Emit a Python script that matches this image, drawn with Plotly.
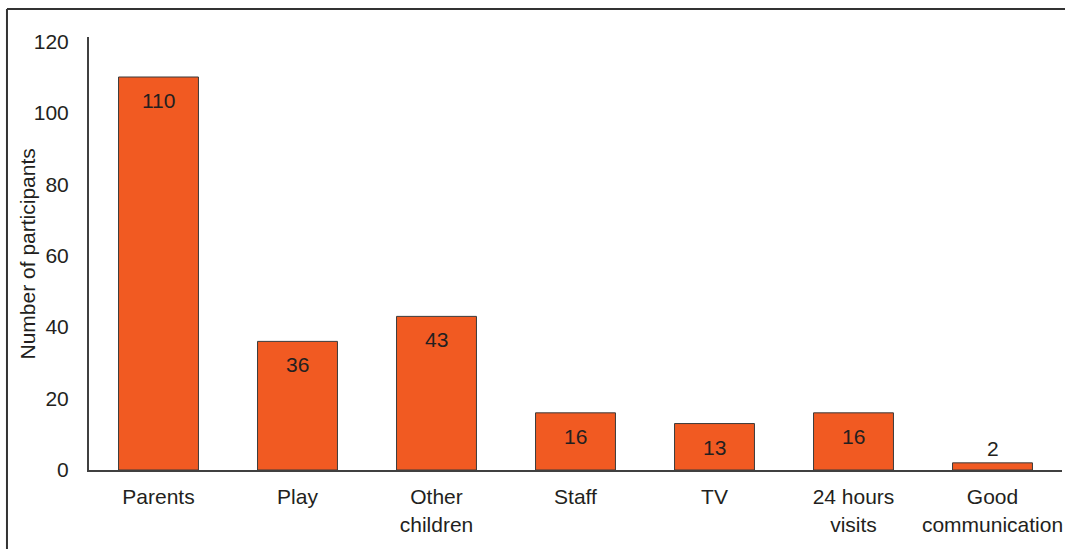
import plotly.graph_objects as go

categories = ["Parents", "Play", "Other<br>children", "Staff", "TV", "24 hours<br>visits", "Good<br>communication"]
values = [110, 36, 43, 16, 13, 16, 2]
y_ticks = [0, 20, 40, 60, 80, 100, 120]

FONT = "Liberation Sans, Arial"
TXT = "#231f20"
FS = 21

fig = go.Figure(go.Bar(
    x=categories, y=values,
    marker=dict(color="#F15A22", line=dict(color="#3a3a3a", width=1)),
    width=0.575,
    hoverinfo="x+y",
))

annotations = []
for c, v in zip(categories, values):
    inside = v > 5
    annotations.append(dict(
        x=c, y=v, xref="x", yref="y", text=str(v), showarrow=False,
        yanchor="top" if inside else "bottom",
        yshift=-10 if inside else 1,
        font=dict(family=FONT, size=FS, color=TXT),
    ))
annotations.append(dict(
    x=-0.0627, y=0.5, xref="paper", yref="paper", text="Number of participants",
    textangle=-90, showarrow=False, xanchor="center", yanchor="middle",
    font=dict(family=FONT, size=FS, color=TXT),
))

fig.update_layout(
    width=1065, height=549,
    margin=dict(l=89, r=3, t=37, b=79),
    paper_bgcolor="white", plot_bgcolor="white",
    font=dict(family=FONT, size=FS, color=TXT),
    showlegend=False,
    bargap=0.425,
    xaxis=dict(
        showline=True, linecolor="#404040", linewidth=2,
        ticks="", showgrid=False, ticklabelstandoff=7,
        tickfont=dict(family=FONT, size=FS, color=TXT),
    ),
    yaxis=dict(
        range=[0, 121.2], tickvals=y_ticks,
        showline=True, linecolor="#404040", linewidth=2,
        ticks="", showgrid=False, zeroline=False, ticklabelstandoff=14,
        tickfont=dict(family=FONT, size=FS, color=TXT),
    ),
    annotations=annotations,
    shapes=[
        dict(type="line", xref="paper", yref="paper", x0=-0.0843, x1=1.01, y0=1.0647, y1=1.0647,
             line=dict(color="#333333", width=2)),
        dict(type="line", xref="paper", yref="paper", x0=-0.0843, x1=-0.0843, y0=1.0647, y1=-0.2,
             line=dict(color="#333333", width=2)),
    ],
)

fig.write_html("out.html")
